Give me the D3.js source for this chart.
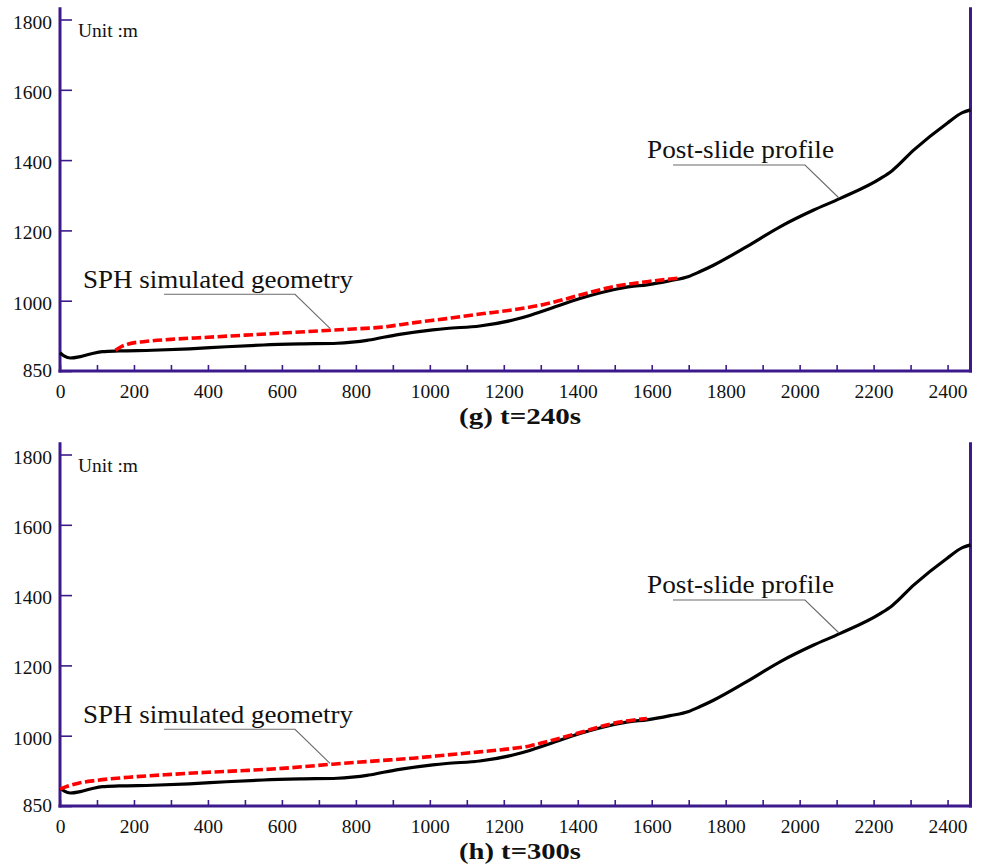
<!DOCTYPE html>
<html><head><meta charset="utf-8">
<script src="https://cdn.jsdelivr.net/npm/d3@7"></script>
<style>
html,body{margin:0;padding:0;background:#fff;}
svg{display:block;}
</style></head><body>
<svg id="chart" width="981" height="866"></svg>
<script>
// Post-slide profile (horizontal distance m, elevation m)
const profileX = [0,12,28,55,85,115,160,250,350,450,550,650,750,790,830,875,918,1008,1045,1135,1225,1270,1316,1406,1496,1541,1587,1650,1700,1731,1767,1857,1948,2038,2110,2219,2250,2309,2399,2440,2462];
const profileY = [852,842,837,841,849,855,857,859,863,869,874,877,879,882,887,896,904,917,921,928,945,958,974,1006,1031,1040,1045,1057,1069,1083,1101,1154,1211,1258,1291,1348,1370,1429,1505,1535,1543];
// SPH simulated geometry, t = 240 s
const sph240X = [150,165,185,230,300,400,500,600,700,780,864,954,1045,1135,1225,1316,1406,1496,1587,1672];
const sph240Y = [859,869,877,884,890,896,902,908,914,919,924,937,949,962,974,991,1016,1040,1054,1064];
// SPH simulated geometry, t = 300 s
const sph300X = [0,20,50,100,200,300,400,500,600,737,864,954,1045,1135,1225,1270,1316,1406,1496,1587];
const sph300Y = [848,856,865,873,883,890,896,901,907,919,929,936,945,954,964,971,983,1009,1035,1049];
// Axes
const xTickValues = d3.range(0, 2401, 100);
const xLabelStep = 200;
const yTickValues = [800,1000,1200,1400,1600,1800];
const yTickLabels = ["850","1000","1200","1400","1600","1800"];
const panels = [
  {title:"(g)  t=240s", sx: sph240X, sy: sph240Y},
  {title:"(h)  t=300s", sx: sph300X, sy: sph300Y}
];

const FONT = '"Liberation Serif","Times New Roman",serif';
const AX = "#3d1a8c";
const svg = d3.select("#chart");
const x = d3.scaleLinear().domain([0, 2462]).range([60, 970.5]);
const y = d3.scaleLinear().domain([800, 1800]).range([371, 19.5]);
const yTop = 1835;
const line = d3.line().x(d=>x(d[0])).y(d=>y(d[1])).curve(d3.curveMonotoneX);

function txt(sel, size) {
  return sel.style("font-family", FONT).style("font-size", size + "px").attr("fill", "#111");
}

panels.forEach((p, i) => {
  const g = svg.append("g").attr("transform", `translate(0,${i*435})`);

  // x axis
  const xa = g.append("g").attr("transform", `translate(0,${y(800)})`)
    .call(d3.axisBottom(x).tickValues(xTickValues).tickSize(-6).tickSizeOuter(0).tickPadding(13)
      .tickFormat(d => d % xLabelStep === 0 ? d : ""));
  xa.attr("font-family", null).attr("font-size", null);
  xa.select(".domain").remove();
  xa.selectAll(".tick line").attr("stroke", AX).attr("stroke-width", 1.6);
  txt(xa.selectAll(".tick text"), 19.5);

  // y axis
  const ya = g.append("g").attr("transform", `translate(${x(0)},0)`)
    .call(d3.axisLeft(y).tickValues(yTickValues).tickSize(-12).tickSizeOuter(0).tickPadding(8)
      .tickFormat((d,k) => yTickLabels[k]));
  ya.attr("font-family", null).attr("font-size", null);
  ya.select(".domain").remove();
  ya.selectAll(".tick line").attr("stroke", AX).attr("stroke-width", 1.6);
  txt(ya.selectAll(".tick text"), 19.5).attr("dy", (d) => d === 800 ? "0.28em" : "0.44em");

  // axis frame lines
  g.append("line").attr("x1", x(0)).attr("x2", x(0)).attr("y1", y(yTop)).attr("y2", y(800)+1.5)
    .attr("stroke", AX).attr("stroke-width", 3);
  g.append("line").attr("x1", x(2462)).attr("x2", x(2462)).attr("y1", y(yTop)).attr("y2", y(800)+1.5)
    .attr("stroke", AX).attr("stroke-width", 3);
  g.append("line").attr("x1", x(0)-1.5).attr("x2", x(2462)+1.5).attr("y1", y(800)).attr("y2", y(800))
    .attr("stroke", AX).attr("stroke-width", 3);

  // unit label
  txt(g.append("text").attr("x", 78).attr("y", 36.5), 18)
    .attr("textLength", 60).attr("lengthAdjust","spacingAndGlyphs").text("Unit :m");

  // profile
  g.append("path").datum(profileX.map((v,k)=>[v, profileY[k]]))
    .attr("d", line).attr("fill","none").attr("stroke","#000").attr("stroke-width",3.2)
    .attr("stroke-linejoin","round");

  // SPH geometry
  g.append("path").datum(p.sx.map((v,k)=>[v, p.sy[k]]))
    .attr("d", line).attr("fill","none").attr("stroke","#ff0000").attr("stroke-width",3.6)
    .attr("stroke-dasharray","9.5,3.5");

  // annotations
  const lead = "#6b6b6b";
  txt(g.append("text").attr("x", 83).attr("y", 288.3), 25)
    .attr("textLength", 270).attr("lengthAdjust","spacingAndGlyphs").text("SPH simulated geometry");
  g.append("polyline").attr("points", "164,294.3 295,294.3 330,328.3")
    .attr("fill","none").attr("stroke", lead).attr("stroke-width",1.1);
  txt(g.append("text").attr("x", 647).attr("y", 158.3), 25)
    .attr("textLength", 187).attr("lengthAdjust","spacingAndGlyphs").text("Post-slide profile");
  g.append("polyline").attr("points", "673,165 805,165 839,198")
    .attr("fill","none").attr("stroke", lead).attr("stroke-width",1.1);

  // title
  txt(g.append("text").attr("x", 459).attr("y", 424), 23).style("font-weight","bold")
    .attr("textLength", 122).attr("lengthAdjust","spacingAndGlyphs").text(p.title);
});
</script>
</body></html>
